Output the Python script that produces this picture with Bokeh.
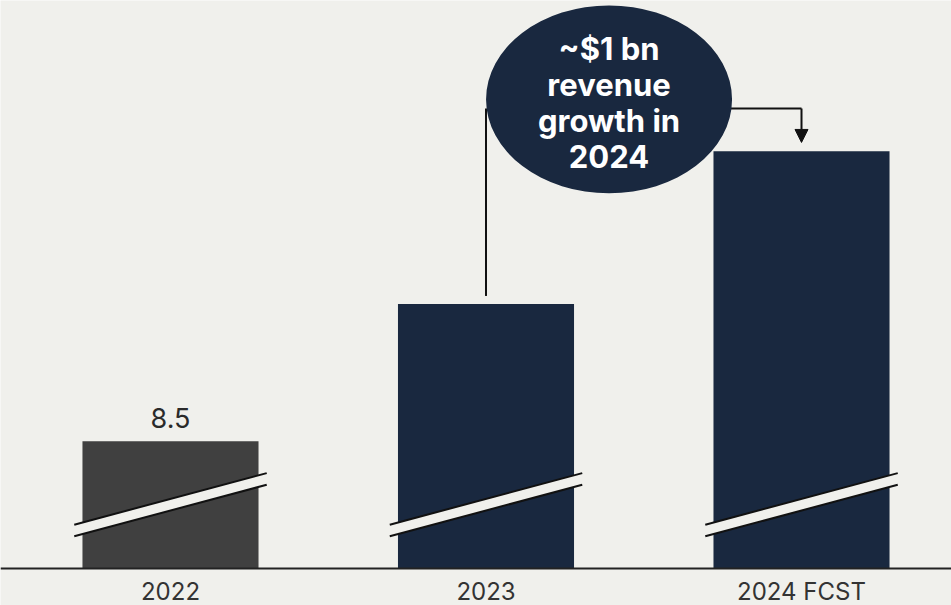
from bokeh.plotting import figure
from bokeh.models import Range1d, FixedTicker, Arrow, NormalHead
from bokeh.core.properties import value
from bokeh.embed import file_html
from bokeh.resources import INLINE

# Revenue, $bn (axis is truncated, shown with break marks)
years = ["2022", "2023", "2024 FCST"]
revenue = [8.5, 9.4, 10.4]
bar_colors = ["#404040", "#19283f", "#19283f"]
value_labels = ["8.5"]            # only the first year carries a value label
growth_text = "~$1 bn\nrevenue\ngrowth in\n2024"

BG = "#f0f0ec"
NAVY = "#19283f"
INK = "#111111"
FONT = "Inter"

xs = list(range(len(years)))
bar_w = 0.558

# truncated value axis: baseline sits 37px above the bottom edge
y_start = 7.666
px_per_unit = 152.6
W, H = 951, 605
label_band = 37
y_lo = y_start - label_band / px_per_unit
y_hi = y_lo + H / px_per_unit

p = figure(width=W, height=H, output_backend="svg", toolbar_location=None,
           x_range=Range1d(-0.5388, 2.4754), y_range=Range1d(y_lo, y_hi),
           min_border_left=0, min_border_right=0, min_border_top=0,
           min_border_bottom=0,
           background_fill_color=BG, border_fill_color=BG, outline_line_color=None)

p.xgrid.visible = False
p.ygrid.visible = False
p.yaxis.visible = False

# bars
p.vbar(x=xs, top=revenue, bottom=y_start, width=bar_w, fill_color=bar_colors,
       line_color=None)

# axis-break marks across every bar
ext = 0.026
mid_left, mid_right, half_gap = 7.915, 8.253, 0.038
bx, by, lx, ly = [], [], [], []
for x in xs:
    xl, xr = x - bar_w / 2 - ext, x + bar_w / 2 + ext
    bx.append([xl, xr, xr, xl])
    by.append([mid_left + half_gap, mid_right + half_gap,
               mid_right - half_gap, mid_left - half_gap])
    lx += [[xl, xr], [xl, xr]]
    ly += [[mid_left + half_gap, mid_right + half_gap],
           [mid_left - half_gap, mid_right - half_gap]]
p.patches(bx, by, fill_color=BG, line_color=None)
p.multi_line(lx, ly, line_color=INK, line_width=2)

# value label floating above the first bar
label_gap = 13 / px_per_unit
p.text(x=xs[:1], y=[revenue[0] + label_gap], text=value_labels, text_align="center",
       text_baseline="bottom", text_font=value(FONT),
       text_font_size="27px", text_color="#2a2a2a")

# growth callout
ell_x, ell_y = 1.39, 10.74
conn_y = 10.68
p.line(x=[xs[1], xs[1]], y=[revenue[1] + 0.052, conn_y], line_color=INK, line_width=2)
p.line(x=[ell_x, xs[2]], y=[conn_y, conn_y], line_color=INK, line_width=2)
p.add_layout(Arrow(x_start=xs[2], y_start=conn_y, x_end=xs[2], y_end=revenue[2] + 0.058,
                   line_color=INK, line_width=2,
                   end=NormalHead(size=13, fill_color=INK, line_color=INK)))
p.ellipse(x=[ell_x], y=[ell_y], width=[246], height=[188], width_units="screen",
          height_units="screen", fill_color=NAVY, line_color=None)
p.text(x=[ell_x], y=[ell_y], text=[growth_text], text_align="center",
       text_baseline="middle", text_font=value(FONT), text_font_style="bold",
       text_font_size="31px", text_color="white", text_line_height=0.97,
       y_offset=3)

# category axis drawn along the baseline
ax = p.xaxis[0]
ax.fixed_location = y_start
ax.ticker = FixedTicker(ticks=xs)
ax.major_label_overrides = {x: y for x, y in zip(xs, years)}
ax.axis_line_color = "#222222"
ax.axis_line_width = 2
ax.major_tick_line_color = None
ax.minor_tick_line_color = None
ax.major_tick_in = 0
ax.major_tick_out = 0
ax.minor_tick_in = 0
ax.minor_tick_out = 0
ax.major_label_standoff = 8
ax.major_label_text_font = FONT
ax.major_label_text_font_size = "24px"
ax.major_label_text_color = "#333333"

open("out.html", "w").write(file_html(p, INLINE))
